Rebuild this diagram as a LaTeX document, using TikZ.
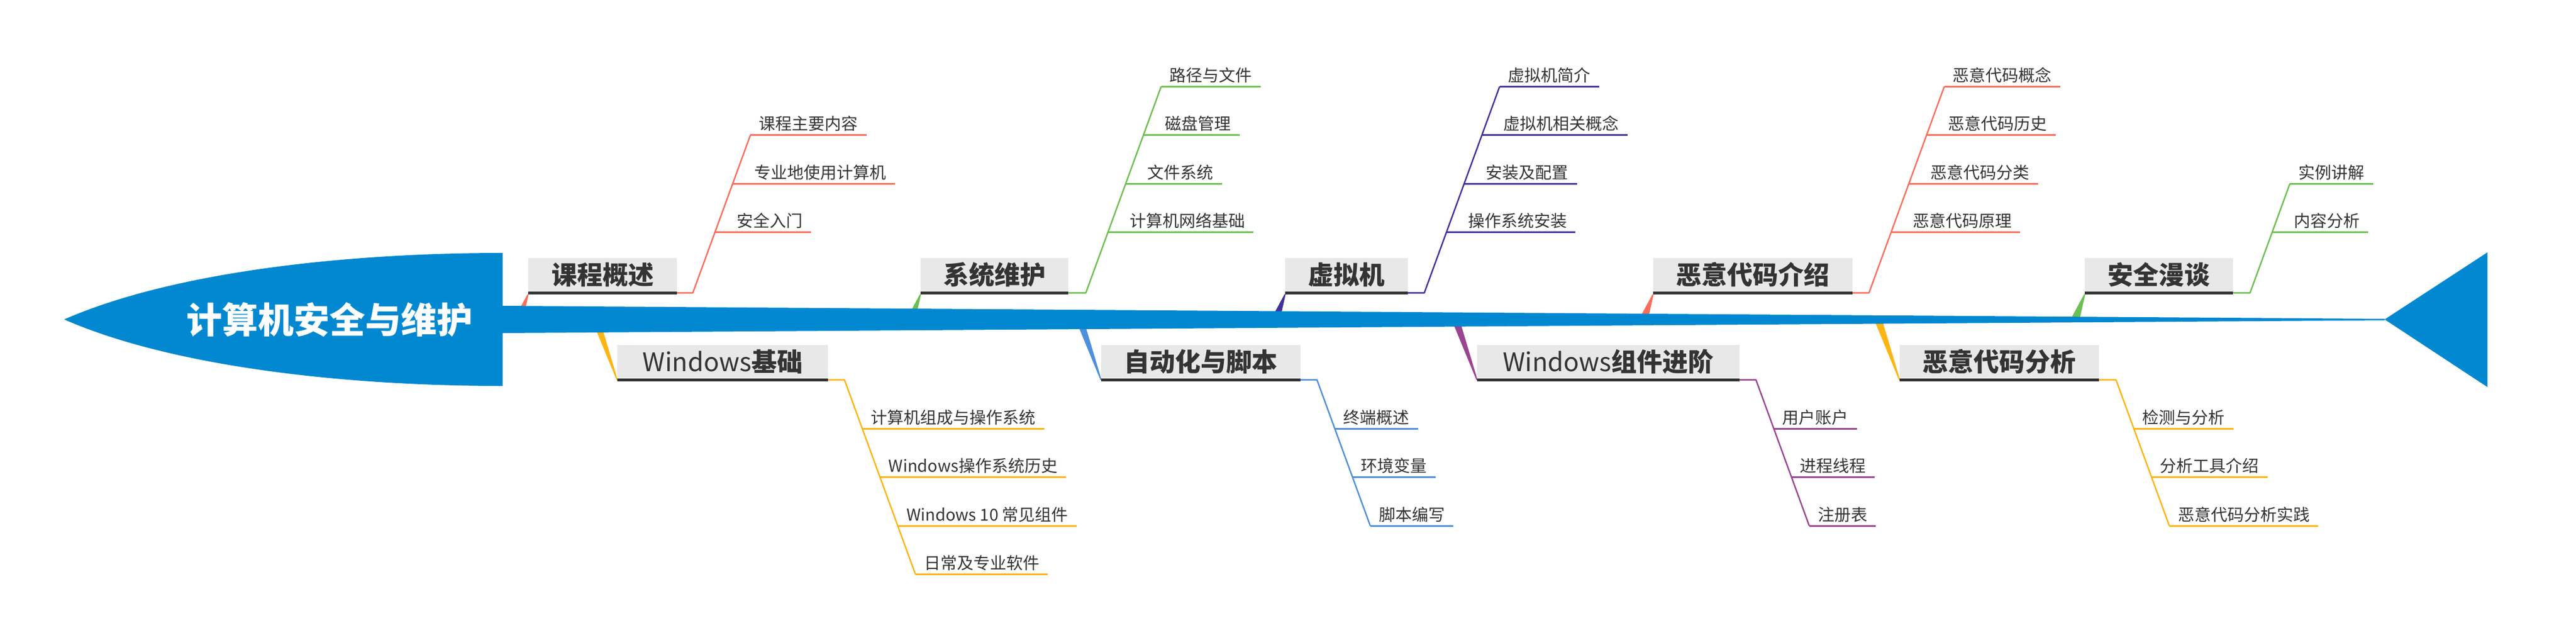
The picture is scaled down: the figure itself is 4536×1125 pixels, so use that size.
\documentclass[tikz,border=0pt]{standalone}
\usepackage{fontspec}
\setmainfont{Noto Sans CJK SC}
\usetikzlibrary{calc}
\pgfdeclarelayer{background}
\pgfsetlayers{background,main}
\definecolor{spine}{HTML}{0288D1}
\definecolor{cred}{HTML}{F96E5B}
\definecolor{cgreen}{HTML}{6CBF50}
\definecolor{cindigo}{HTML}{41319A}
\definecolor{cyellow}{HTML}{FDB515}
\definecolor{cblue}{HTML}{4F8FDC}
\definecolor{cmag}{HTML}{9A4590}
\definecolor{boxgray}{HTML}{E8E8E8}
\definecolor{bardark}{HTML}{333333}
\definecolor{txt}{HTML}{333333}
\newcommand\subfnt{\fontsize{29}{34}\selectfont}
\newcommand\catfnt{\bfseries\fontsize{45}{54}\selectfont}
\newcommand\titlefnt{\bfseries\fontsize{63}{75}\selectfont}
\tikzset{
  catbox/.style={fill=boxgray, text=txt, font=\catfnt, inner sep=0pt, minimum height=59},
  catbar/.style={line width=4.5, draw=bardark},
  subtxt/.style={anchor=base west, inner xsep=15, inner ysep=0pt, font=\subfnt, text=txt},
  branchln/.style={line width=2.5, draw=#1, line join=round},
  ulin/.style={line width=3, draw=#1},
}
\begin{document}
\begin{tikzpicture}[x=1pt,y=-1pt]
\useasboundingbox (0,0) rectangle (4536,1125);

% head, spine, tail
\fill[spine] (113,562) .. controls (300,480) and (600,445) .. (885,445) -- (885,679) .. controls (600,679) and (300,644) .. (113,562) -- cycle;
\fill[spine] (885,538) -- (4199,561) -- (4199,563.5) -- (885,586) -- cycle;
\fill[spine] (4199,562) -- (4380,444) -- (4380,681) -- cycle;
\node[font=\titlefnt, text=white, inner sep=0pt] (title) at (580,562) {计算机安全与维护};

% ---------- top categories ----------
\node[catbox, minimum width=262] (c1) at (1061,483.5) {课程概述};
\node[catbox, minimum width=260] (c2) at (1751,483.5) {系统维护};
\node[catbox, minimum width=216] (c3) at (2371,483.5) {虚拟机};
\node[catbox, minimum width=351] (c4) at (3086.5,483.5) {恶意代码介绍};
\node[catbox, minimum width=261] (c5) at (3801.5,483.5) {安全漫谈};
% ---------- bottom categories ----------
\node[catbox, minimum width=371] (c6) at (1272.5,636.5) {{\mdseries Windows}基础};
\node[catbox, minimum width=351] (c7) at (2114.5,636.5) {自动化与脚本};
\node[catbox, minimum width=462] (c8) at (2832,636.5) {{\mdseries Windows}组件进阶};
\node[catbox, minimum width=351] (c9) at (3520.5,636.5) {恶意代码分析};

\foreach \c in {c1,c2,c3,c4,c5,c6,c7,c8,c9}{
  \draw[catbar] ([yshift=-2.25]\c.south west) -- ([yshift=-2.25]\c.south east);
}

% wedges from spine to boxes
\begin{pgfonlayer}{background}
\foreach \c/\col in {c1/cred,c2/cgreen,c3/cindigo,c4/cred,c5/cgreen}{
  \fill[\col] ($(\c.south west)+(-25,49)$) -- ($(\c.south west)+(-9,49)$) -- ($(\c.south west)+(1,4.5)$) -- ($(\c.south west)+(-1,4.5)$) -- cycle;
}
\foreach \c/\col in {c6/cyellow,c7/cblue,c8/cmag,c9/cyellow}{
  \fill[\col] ($(\c.north west)+(-45,-45)$) -- ($(\c.north west)+(-31,-45)$) -- ($(\c.south west)+(1,2.5)$) -- ($(\c.south west)+(-1,2.5)$) -- cycle;
}
\end{pgfonlayer}

% ===== 1 课程概述 =====
\coordinate (k1) at (1220,515.25);
\coordinate (d11) at (1321.3,237.8);
\coordinate (d12) at (1290.1,323.3);
\coordinate (d13) at (1258.8,408.8);
\draw[branchln=cred] ([yshift=-2.25]c1.south east) -- (k1) -- (d11);
\node[subtxt] (s11) at ($(d11)+(0,-9)$) {课程主要内容};
\node[subtxt] (s12) at ($(d12)+(23,-9)$) {专业地使用计算机};
\node[subtxt] (s13) at ($(d13)+(23,-9)$) {安全入门};
\foreach \i in {1,2,3}{\draw[ulin=cred] (d1\i) -- (d1\i -| s1\i.east);}

% ===== 2 系统维护 =====
\coordinate (k2) at (1912,515.25);
\coordinate (d21) at (2044.6,152.3);
\coordinate (d22) at (2013.3,237.8);
\coordinate (d23) at (1982.1,323.3);
\coordinate (d24) at (1950.8,408.8);
\draw[branchln=cgreen] ([yshift=-2.25]c2.south east) -- (k2) -- (d21);
\node[subtxt] (s21) at ($(d21)+(0,-9)$) {路径与文件};
\node[subtxt] (s22) at ($(d22)+(23,-9)$) {磁盘管理};
\node[subtxt] (s23) at ($(d23)+(23,-9)$) {文件系统};
\node[subtxt] (s24) at ($(d24)+(23,-9)$) {计算机网络基础};
\foreach \i in {1,2,3,4}{\draw[ulin=cgreen] (d2\i) -- (d2\i -| s2\i.east);}

% ===== 3 虚拟机 =====
\coordinate (k3) at (2508,515.25);
\coordinate (d31) at (2640.6,152.3);
\coordinate (d32) at (2609.3,237.8);
\coordinate (d33) at (2578.1,323.3);
\coordinate (d34) at (2546.8,408.8);
\draw[branchln=cindigo] ([yshift=-2.25]c3.south east) -- (k3) -- (d31);
\node[subtxt] (s31) at ($(d31)+(0,-9)$) {虚拟机简介};
\node[subtxt] (s32) at ($(d32)+(23,-9)$) {虚拟机相关概念};
\node[subtxt] (s33) at ($(d33)+(23,-9)$) {安装及配置};
\node[subtxt] (s34) at ($(d34)+(23,-9)$) {操作系统安装};
\foreach \i in {1,2,3,4}{\draw[ulin=cindigo] (d3\i) -- (d3\i -| s3\i.east);}

% ===== 4 恶意代码介绍 =====
\coordinate (k4) at (3291,515.25);
\coordinate (d41) at (3423.6,152.3);
\coordinate (d42) at (3392.3,237.8);
\coordinate (d43) at (3361.1,323.3);
\coordinate (d44) at (3329.8,408.8);
\draw[branchln=cred] ([yshift=-2.25]c4.south east) -- (k4) -- (d41);
\node[subtxt] (s41) at ($(d41)+(0,-9)$) {恶意代码概念};
\node[subtxt] (s42) at ($(d42)+(23,-9)$) {恶意代码历史};
\node[subtxt] (s43) at ($(d43)+(23,-9)$) {恶意代码分类};
\node[subtxt] (s44) at ($(d44)+(23,-9)$) {恶意代码原理};
\foreach \i in {1,2,3,4}{\draw[ulin=cred] (d4\i) -- (d4\i -| s4\i.east);}

% ===== 5 安全漫谈 =====
\coordinate (k5) at (3962,515.25);
\coordinate (d51) at (4032.1,323.3);
\coordinate (d52) at (4000.8,408.8);
\draw[branchln=cgreen] ([yshift=-2.25]c5.south east) -- (k5) -- (d51);
\node[subtxt] (s51) at ($(d51)+(0,-9)$) {实例讲解};
\node[subtxt] (s52) at ($(d52)+(23,-9)$) {内容分析};
\foreach \i in {1,2}{\draw[ulin=cgreen] (d5\i) -- (d5\i -| s5\i.east);}

% ===== 6 Windows基础 =====
\coordinate (k6) at (1487,668.25);
\coordinate (d61) at (1518.3,754);
\coordinate (d62) at (1549.5,839.5);
\coordinate (d63) at (1580.8,925);
\coordinate (d64) at (1612,1010.5);
\draw[branchln=cyellow] ([yshift=-2.25]c6.south east) -- (k6) -- (d64);
\node[subtxt] (s61) at ($(d61)+(0,-9)$) {计算机组成与操作系统};
\node[subtxt] (s62) at ($(d62)+(0,-9)$) {Windows操作系统历史};
\node[subtxt] (s63) at ($(d63)+(0,-9)$) {Windows 10 常见组件};
\node[subtxt] (s64) at ($(d64)+(0,-9)$) {日常及专业软件};
\foreach \i in {1,2,3,4}{\draw[ulin=cyellow] (d6\i) -- (d6\i -| s6\i.east);}

% ===== 7 自动化与脚本 =====
\coordinate (k7) at (2319,668.25);
\coordinate (d71) at (2350.3,754);
\coordinate (d72) at (2381.5,839.5);
\coordinate (d73) at (2412.8,925);
\draw[branchln=cblue] ([yshift=-2.25]c7.south east) -- (k7) -- (d73);
\node[subtxt] (s71) at ($(d71)+(0,-9)$) {终端概述};
\node[subtxt] (s72) at ($(d72)+(0,-9)$) {环境变量};
\node[subtxt] (s73) at ($(d73)+(0,-9)$) {脚本编写};
\foreach \i in {1,2,3}{\draw[ulin=cblue] (d7\i) -- (d7\i -| s7\i.east);}

% ===== 8 Windows组件进阶 =====
\coordinate (k8) at (3092,668.25);
\coordinate (d81) at (3123.3,754);
\coordinate (d82) at (3154.5,839.5);
\coordinate (d83) at (3185.8,925);
\draw[branchln=cmag] ([yshift=-2.25]c8.south east) -- (k8) -- (d83);
\node[subtxt] (s81) at ($(d81)+(0,-9)$) {用户账户};
\node[subtxt] (s82) at ($(d82)+(0,-9)$) {进程线程};
\node[subtxt] (s83) at ($(d83)+(0,-9)$) {注册表};
\foreach \i in {1,2,3}{\draw[ulin=cmag] (d8\i) -- (d8\i -| s8\i.east);}

% ===== 9 恶意代码分析 =====
\coordinate (k9) at (3726,668.25);
\coordinate (d91) at (3757.3,754);
\coordinate (d92) at (3788.5,839.5);
\coordinate (d93) at (3819.8,925);
\draw[branchln=cyellow] ([yshift=-2.25]c9.south east) -- (k9) -- (d93);
\node[subtxt] (s91) at ($(d91)+(0,-9)$) {检测与分析};
\node[subtxt] (s92) at ($(d92)+(0,-9)$) {分析工具介绍};
\node[subtxt] (s93) at ($(d93)+(0,-9)$) {恶意代码分析实践};
\foreach \i in {1,2,3}{\draw[ulin=cyellow] (d9\i) -- (d9\i -| s9\i.east);}

\end{tikzpicture}
\end{document}
